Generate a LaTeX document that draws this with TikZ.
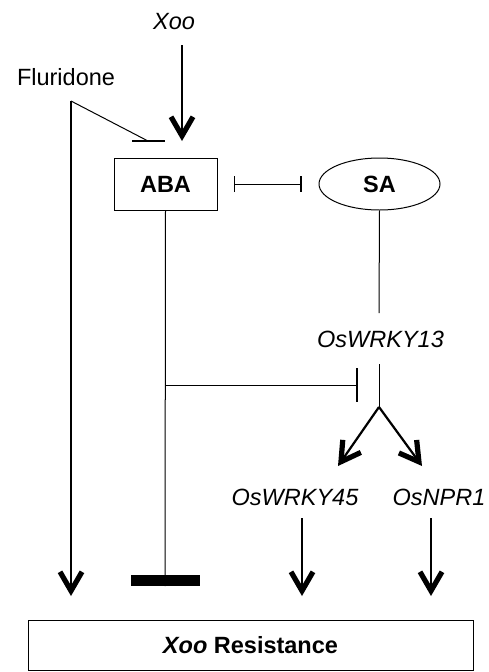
\documentclass[tikz,border=0pt]{standalone}
\usepackage{fontspec}
\setmainfont{Liberation Sans}
\usetikzlibrary{arrows.meta,shapes.geometric}
\begin{document}
\begin{tikzpicture}[x=1pt,y=-1pt,
  lbl/.style={font=\fontsize{23.5}{26}\selectfont, inner sep=0pt},
  ilbl/.style={lbl, font=\fontsize{23.5}{26}\selectfont\itshape},
  blbl/.style={draw, line width=1pt, font=\fontsize{23.5}{26}\selectfont\bfseries, inner sep=0pt},
  thin/.style={line width=1pt},
  act/.style={line width=2.7pt, -{Straight Barb[length=19pt,width=22pt,line width=5.2pt]}},
  actm/.style={line width=2.2pt, -{Straight Barb[length=19pt,width=22pt,line width=5.2pt]}},
  inh/.style={line width=1pt, {Bar[width=16pt,line width=1.6pt]}-{Bar[width=16pt,line width=1.6pt]}},
  inhr/.style={line width=1pt, -{Bar[width=34pt,line width=1.6pt]}}]
\useasboundingbox (0,0) rectangle (488,672);
% nodes
\node[ilbl] (xoo) at (174,22) {Xoo};
\node[lbl] (flu) at (66,77) {Fluridone};
\node[blbl, minimum width=103pt, minimum height=52pt] (aba) at (165.5,184) {ABA};
\node[blbl, ellipse, minimum width=121pt, minimum height=52pt] (sa) at (379.5,184) {SA};
\node[ilbl] (w13) at (380.5,339) {OsWRKY13};
\node[ilbl] (w45) at (295,497) {OsWRKY45};
\node[ilbl] (npr) at (439,497) {OsNPR1};
\node[blbl, minimum width=445pt, minimum height=50pt] (res) at (250.5,645) {\textit{Xoo} Resistance};
% coordinates
\coordinate (xooA) at (182,45);
\coordinate (xooB) at (182,141);
\coordinate (fluTop) at (71,101);
\coordinate (fluBot) at (71,596);
\coordinate (fbarM) at (148,141);
\coordinate (fbarL) at (132,141);
\coordinate (fbarR) at (165,141);
\coordinate (abaBot) at (165,586);
\coordinate (hinA) at (165,385);
\coordinate (hinB) at (358,385);
\coordinate (saEnd) at (379,313);
\coordinate (w13A) at (379,364);
\coordinate (fork) at (379,407);
\coordinate (tipL) at (338,466);
\coordinate (tipR) at (422,466);
\coordinate (w45A) at (302,518);
\coordinate (w45B) at (302,596);
\coordinate (nprA) at (431,518);
\coordinate (nprB) at (431,596);
% connectors
\draw[act] (xooA) -- (xooB);
\draw[act] (fluTop) -- (fluBot);
\draw[thin] (fluTop) -- (fbarM);
\draw[line width=1.6pt] (fbarL) -- (fbarR);
\draw[inh] ([xshift=16pt]aba.east |- aba.center) -- ([xshift=-17pt]sa.west);
\draw[thin] (aba.south) -- (abaBot);
\fill ([xshift=-34pt]abaBot) rectangle ([xshift=35pt,yshift=11pt]abaBot);
\draw[inhr] (hinA) -- (hinB);
\draw[thin] (sa.south) -- (saEnd);
\draw[thin] (w13A) -- (fork);
\draw[actm] (fork) -- (tipL);
\draw[actm] (fork) -- (tipR);
\draw[actm] (w45A) -- (w45B);
\draw[actm] (nprA) -- (nprB);
\end{tikzpicture}
\end{document}
